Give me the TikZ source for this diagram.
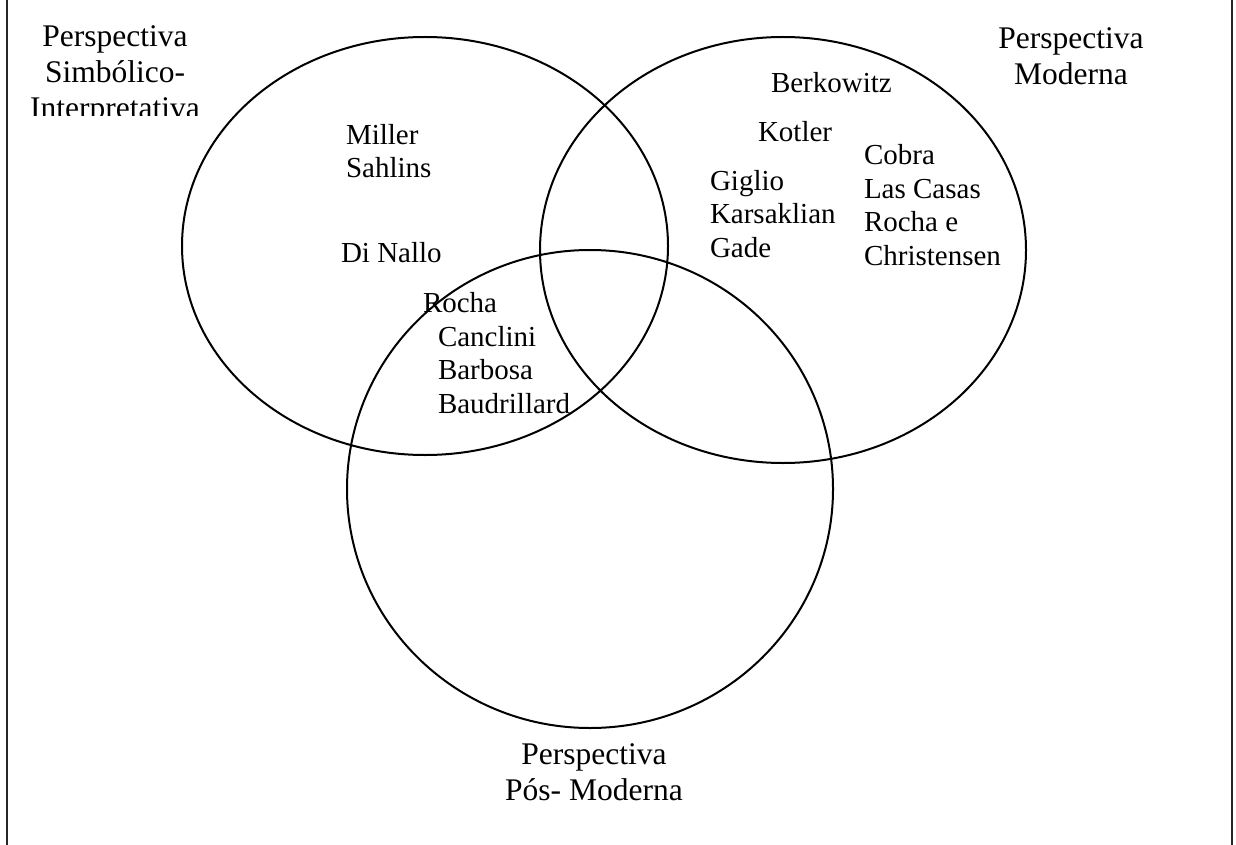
\documentclass[tikz,border=0pt]{standalone}
\usepackage{fontspec}
\setmainfont{Liberation Serif}
\usetikzlibrary{positioning}

\tikzset{rotulo/.style={inner sep=0pt, align=center, anchor=base, font=\fontsize{31.5}{36}\selectfont},
	nome/.style={inner sep=0pt, align=left, anchor=base west, font=\fontsize{29}{33.5}\selectfont}}

\begin{document}
\begin{tikzpicture}[x=1pt, y=-1pt, line width=2pt]
\useasboundingbox (0,0) rectangle (1236,845);
\draw[line width=2.6pt, black!85](7,0)--(7,845) (1232,0)--(1232,845);
% circulos
\coordinate (c1) at (425,246);
\coordinate (c2) at (783,250);
\coordinate (c3) at (590,489);
\draw (c1) ellipse [x radius=243, y radius=209]
	(c2) ellipse [x radius=243, y radius=213]
	(c3) ellipse [x radius=243, y radius=239];
% perspectivas (ancora na ultima linha)
\begin{scope}
\clip (20,0) rectangle (212,116);
\node[rotulo](ps) at (115,119){Perspectiva\\Simbólico-\\Interpretativa};
\end{scope}
\node[rotulo](pm) at (1071,85){Perspectiva\\Moderna};
\node[rotulo](ppm) at (594,800){Perspectiva\\Pós- Moderna};
% autores
\node[nome](miller) at (345,178){Miller\\Sahlins};
\node[nome](dinallo) at (340,262){Di Nallo};
\node[nome](rocha) at (422,312){Rocha};
\node[nome](canclini) at (437,413){Canclini\\Barbosa\\Baudrillard};
\node[nome](berkowitz) at (770,93){Berkowitz};
\node[nome](kotler) at (757,142){Kotler};
\node[nome](giglio) at (709,257){Giglio\\Karsaklian\\Gade};
\node[nome](cobra) at (863,265){Cobra\\Las Casas\\Rocha e\\Christensen};
\end{tikzpicture}
\end{document}
